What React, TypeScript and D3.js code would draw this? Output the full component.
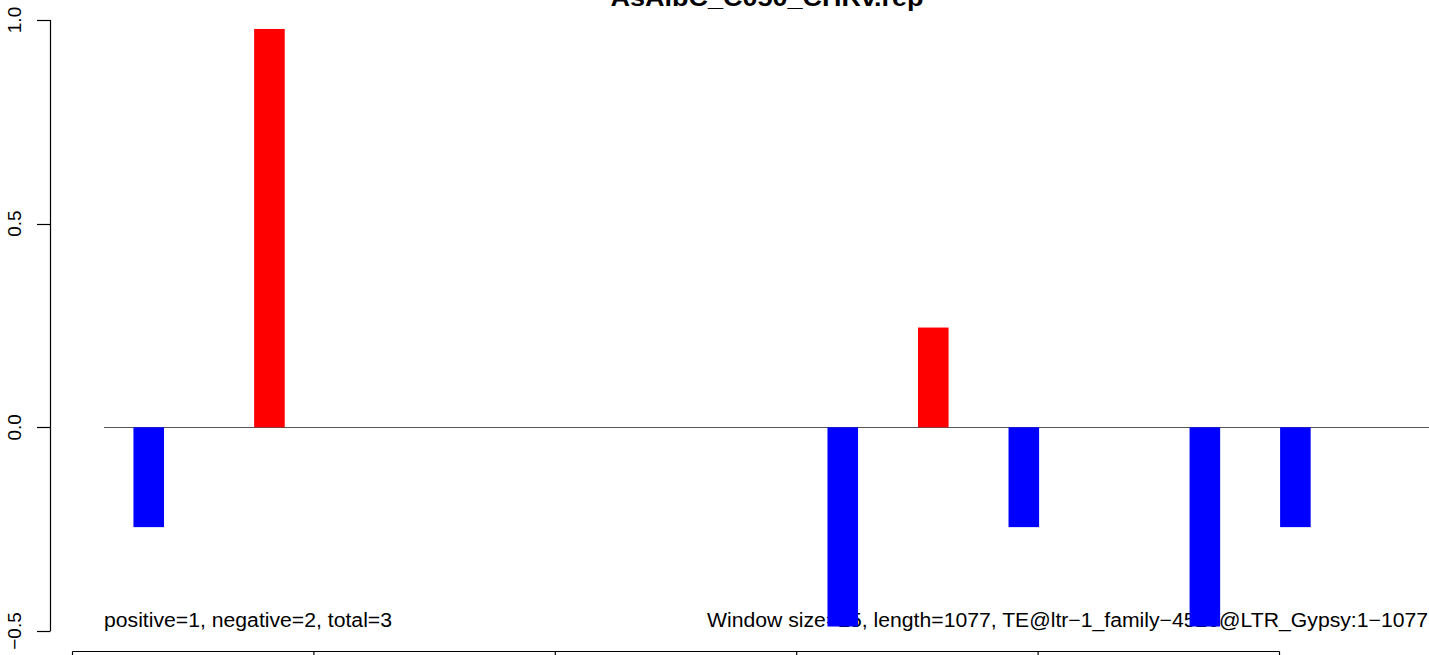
import React from "react";
import * as d3 from "d3";

const title = "AsAlbC_C050_CHRv.rep";
const windowStarts = [50, 150, 625, 700, 775, 925, 1000];
const windowValues = [-0.245, 0.978, -0.489, 0.245, -0.245, -0.489, -0.245];
const windowSize = 25;
const yTicks = [-0.5, 0.0, 0.5, 1.0];
const yTickLabels = ["\u22120.5", "0.0", "0.5", "1.0"];
const xTicks = [0, 200, 400, 600, 800, 1000];
const leftNote = "positive=1, negative=2, total=3";
const rightNote = "Window size=25, length=1077, TE@ltr\u22121_family\u22124526@LTR_Gypsy:1\u22121077";

export default function App() {
  const W = 1429;
  const H = 655;
  const x = d3.scaleLinear().domain([0, 1000]).range([72.5, 1279.5]);
  const y = d3.scaleLinear().domain([-0.5, 1.0]).range([631, 20]);
  const font = "'Liberation Sans', Arial, Helvetica, sans-serif";
  return (
    <svg
      width={W}
      height={H}
      style={{ position: "fixed", left: 0, top: 0, background: "#fff" }}
    >
      <rect x={0} y={0} width={W} height={H} fill="#fff" />
      <text
        x={767}
        y={6}
        textAnchor="middle"
        fontFamily={font}
        fontWeight="bold"
        fontSize={23}
        textLength={313}
        lengthAdjust="spacingAndGlyphs"
      >
        {title}
      </text>
      {/* y axis */}
      <line x1={50.5} x2={50.5} y1={y(1.0)} y2={y(-0.5)} stroke="#000" strokeWidth={1.2} />
      {yTicks.map((t, i) => (
        <g key={t}>
          <line x1={37} x2={50.5} y1={Math.round(y(t)) + 0.5} y2={Math.round(y(t)) + 0.5} stroke="#000" strokeWidth={1.2} />
          <text
            transform={`translate(21,${y(t)}) rotate(-90)`}
            textAnchor="middle"
            fontFamily={font}
            fontSize={19}
          >
            {yTickLabels[i]}
          </text>
        </g>
      ))}
      {/* x axis */}
      <line x1={x(0)} x2={x(1000)} y1={651.5} y2={651.5} stroke="#000" strokeWidth={1.2} />
      {xTicks.map((t) => (
        <line key={t} x1={x(t)} x2={x(t)} y1={651.5} y2={665} stroke="#000" strokeWidth={1.2} />
      ))}
      {/* notes */}
      <text x={104} y={627} fontFamily={font} fontSize={20} textLength={288} lengthAdjust="spacingAndGlyphs">
        {leftNote}
      </text>
      <text x={707} y={627} fontFamily={font} fontSize={20} textLength={721} lengthAdjust="spacingAndGlyphs">
        {rightNote}
      </text>
      {/* zero line */}
      <line x1={104} x2={W} y1={Math.round(y(0)) + 0.5} y2={Math.round(y(0)) + 0.5} stroke="#555" strokeWidth={1} />
      {/* bars */}
      {windowStarts.map((s, i) => {
        const v = windowValues[i];
        const x0 = x(s) + 0.6;
        const x1 = x(s + windowSize) + 1.0;
        const y0 = y(Math.max(0, v));
        const y1 = y(Math.min(0, v));
        return (
          <rect
            key={s}
            x={x0}
            y={y0}
            width={x1 - x0}
            height={y1 - y0}
            fill={v >= 0 ? "#ff0000" : "#0000ff"}
          />
        );
      })}
    </svg>
  );
}
